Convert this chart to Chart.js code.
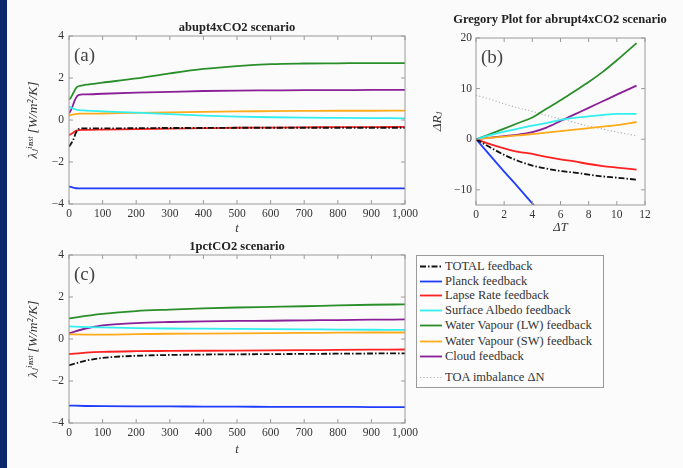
<!DOCTYPE html>
<html>
<head>
<meta charset="utf-8">
<script src="https://cdn.jsdelivr.net/npm/chart.js@4.4.1/dist/chart.umd.min.js"></script>
<style>
  body { margin: 0; background: #fbfbfb; }
  #page { position: relative; width: 683px; height: 468px; background: #fbfbfb; overflow: hidden; }
  #stripe { position: absolute; left: 0; top: 0; width: 7px; height: 468px; background: #0c2a6b; }
  canvas { position: absolute; }
  #legend { position: absolute; left: 416px; top: 255px; width: 186px; height: 131px;
            border: 1px solid #9a9a9a; background: #fcfcfc;
            font-family: "Liberation Serif", "DejaVu Serif", serif; font-size: 12.5px; color: #333; }
  #legend .row { position: absolute; left: 2px; height: 15px; line-height: 15px; white-space: nowrap; }
  #legend svg { position: absolute; left: 0; top: 0; }
  #legend span { position: absolute; left: 26px; top: 0; }
</style>
</head>
<body>
<div id="page">
  <div id="stripe"></div>
  <canvas id="chartA" style="left:0;top:0"></canvas>
  <canvas id="chartB" style="left:420px;top:0"></canvas>
  <canvas id="chartC" style="left:0;top:235px"></canvas>
  <div id="legend"></div>
</div>
<script>
// ---- data: panel (a) abrupt4xCO2, lambda vs t
const tA = [0, 5, 10, 15, 20, 25, 30, 40, 50, 100, 200, 300, 400, 500, 600, 700, 800, 900, 1000];
const aTotal  = [-1.27, -1.15, -1.03, -0.85, -0.63, -0.5, -0.42, -0.4, -0.4, -0.4, -0.39, -0.38, -0.38, -0.37, -0.37, -0.37, -0.37, -0.37, -0.37];
const aPlanck = [-3.17, -3.19, -3.21, -3.23, -3.25, -3.25, -3.26, -3.26, -3.26, -3.26, -3.26, -3.26, -3.26, -3.26, -3.26, -3.26, -3.26, -3.26, -3.26];
const aLapse  = [-0.72, -0.68, -0.63, -0.57, -0.52, -0.49, -0.48, -0.47, -0.47, -0.46, -0.43, -0.41, -0.39, -0.37, -0.36, -0.35, -0.34, -0.34, -0.33];
const aAlbedo = [0.63, 0.6, 0.56, 0.53, 0.5, 0.48, 0.47, 0.46, 0.45, 0.41, 0.35, 0.28, 0.21, 0.16, 0.13, 0.11, 0.1, 0.09, 0.08];
const aWvLw   = [0.98, 1.05, 1.2, 1.35, 1.5, 1.58, 1.62, 1.65, 1.68, 1.78, 1.98, 2.22, 2.43, 2.57, 2.66, 2.69, 2.7, 2.71, 2.71];
const aWvSw   = [0.21, 0.23, 0.25, 0.27, 0.28, 0.29, 0.3, 0.3, 0.3, 0.31, 0.34, 0.36, 0.39, 0.41, 0.42, 0.43, 0.44, 0.44, 0.45];
const aCloud  = [0.32, 0.45, 0.63, 0.85, 1.03, 1.15, 1.2, 1.22, 1.22, 1.25, 1.3, 1.34, 1.38, 1.4, 1.41, 1.42, 1.42, 1.43, 1.43];

// ---- data: panel (b) Gregory plot, delta R vs delta T
const bDT     = [0, 1, 2, 3, 4, 5, 6, 7, 8, 9, 10, 11.4];
const bTotal  = [0, -1.6, -3.1, -4.3, -5.2, -5.8, -6.3, -6.6, -7.0, -7.35, -7.6, -8.0];
const bPlanck = [0, -3.2, -6.4, -9.5, -12.7, -15.9, null, null, null, null, null, null];
const bLapse  = [0, -0.95, -1.8, -2.5, -2.9, -3.5, -4.0, -4.4, -4.9, -5.3, -5.6, -6.0];
const bAlbedo = [0, 0.8, 1.5, 2.1, 2.7, 3.2, 3.8, 4.2, 4.5, 4.8, 5.0, 5.0];
const bWvLw   = [0, 1.0, 2.1, 3.2, 4.3, 6.0, 7.7, 9.5, 11.3, 13.3, 15.6, 19.0];
const bWvSw   = [0, 0.25, 0.5, 0.75, 1.0, 1.3, 1.6, 1.9, 2.2, 2.5, 2.8, 3.4];
const bCloud  = [0, 0.3, 0.6, 0.9, 1.4, 2.3, 3.6, 4.9, 6.2, 7.5, 8.8, 10.6];
const bToa    = [8.7, 7.9, 7.0, 6.2, 5.5, 4.7, 4.0, 3.3, 2.6, 2.0, 1.4, 0.7];

// ---- data: panel (c) 1pctCO2, lambda vs t
const tC = [0, 50, 100, 200, 300, 400, 500, 600, 700, 800, 900, 1000];
const cTotal  = [-1.25, -1.03, -0.9, -0.8, -0.76, -0.74, -0.73, -0.72, -0.71, -0.7, -0.69, -0.68];
const cPlanck = [-3.17, -3.19, -3.2, -3.21, -3.21, -3.22, -3.22, -3.23, -3.23, -3.23, -3.24, -3.24];
const cLapse  = [-0.72, -0.65, -0.61, -0.58, -0.57, -0.56, -0.55, -0.54, -0.53, -0.52, -0.51, -0.5];
const cAlbedo = [0.6, 0.57, 0.55, 0.52, 0.5, 0.49, 0.48, 0.47, 0.46, 0.45, 0.44, 0.43];
const cWvLw   = [0.98, 1.1, 1.2, 1.33, 1.4, 1.46, 1.5, 1.53, 1.56, 1.6, 1.63, 1.65];
const cWvSw   = [0.22, 0.21, 0.21, 0.23, 0.25, 0.26, 0.27, 0.28, 0.29, 0.3, 0.31, 0.31];
const cCloud  = [0.28, 0.5, 0.65, 0.76, 0.81, 0.84, 0.86, 0.87, 0.89, 0.9, 0.92, 0.93];

const seriesNames = ['TOTAL feedback', 'Planck feedback', 'Lapse Rate feedback', 'Surface Albedo feedback',
                     'Water Vapour (LW) feedback', 'Water Vapour (SW) feedback', 'Cloud feedback', 'TOA imbalance ΔN'];

// styles
const colors = ['#111111', '#1f3cff', '#ff2020', '#33eeee', '#2a8f2a', '#ffab1a', '#8a1f98', '#b0b0b0'];
const dashes = [[6, 2, 1.5, 2], [], [], [], [], [], [], [1.2, 2.2]];
const serif = '"Liberation Serif", "DejaVu Serif", serif';

function makeSets(xs, lists) {
    return lists.map((vals, i) => ({
        label: seriesNames[i],
        data: xs.map((x, k) => ({ x: x, y: vals[k] })),
        borderColor: colors[i],
        borderDash: dashes[i],
        borderWidth: i === 7 ? 1.1 : 1.8,
        pointRadius: 0,
        fill: false,
        spanGaps: false,
        cubicInterpolationMode: 'monotone'
    }));
}

function fmt(v) {
    if (v < 0) return '\u2212' + Math.abs(v).toLocaleString('en-US');
    return v.toLocaleString('en-US');
}

// frame, inner ticks, panel letter and title
const framePlugin = {
    id: 'frame',
    afterDraw(chart, args, opts) {
        const { ctx, chartArea: a, scales: { x, y } } = chart;
        ctx.save();
        ctx.strokeStyle = '#9a9a9a';
        ctx.lineWidth = 1;
        ctx.strokeRect(a.left, a.top, a.right - a.left, a.bottom - a.top);
        ctx.beginPath();
        x.ticks.forEach(t => {
            const px = x.getPixelForValue(t.value);
            ctx.moveTo(px, a.bottom); ctx.lineTo(px, a.bottom - 4);
            ctx.moveTo(px, a.top); ctx.lineTo(px, a.top + 4);
        });
        y.ticks.forEach(t => {
            const py = y.getPixelForValue(t.value);
            ctx.moveTo(a.left, py); ctx.lineTo(a.left + 4, py);
            ctx.moveTo(a.right, py); ctx.lineTo(a.right - 4, py);
        });
        ctx.stroke();
        ctx.fillStyle = '#444';
        ctx.font = '19px ' + serif;
        ctx.textBaseline = 'alphabetic';
        ctx.textAlign = 'left';
        ctx.fillText(opts.letter, a.left + 5, a.top + 25);
        ctx.fillStyle = '#222';
        ctx.font = 'bold 12.5px ' + serif;
        ctx.textAlign = 'center';
        ctx.textBaseline = 'middle';
        ctx.fillText(opts.title, opts.titleX, opts.titleY);
        ctx.restore();
    }
};

function makeChart(id, w, h, sets, cfg) {
    const el = document.getElementById(id);
    el.width = w; el.height = h;
    el.style.width = w + 'px'; el.style.height = h + 'px';
    return new Chart(el.getContext('2d'), {
        type: 'line',
        data: { datasets: sets },
        plugins: [framePlugin],
        options: {
            responsive: false,
            animation: false,
            layout: { padding: cfg.padding },
            plugins: {
                legend: { display: false },
                tooltip: { enabled: false },
                frame: { letter: cfg.letter, title: cfg.title, titleX: cfg.titleX, titleY: cfg.titleY }
            },
            scales: {
                x: {
                    type: 'linear',
                    min: cfg.xMin, max: cfg.xMax,
                    grid: { display: false, drawTicks: false },
                    border: { display: false },
                    ticks: { stepSize: cfg.xStep, padding: 3, color: '#333', maxRotation: 0,
                             font: { family: serif, size: 11.5 }, callback: fmt },
                    title: { display: true, text: cfg.xTitle, color: '#333',
                             font: { family: serif, size: 12.5, style: 'italic' },
                             padding: { top: 0, bottom: cfg.xTitlePad } },
                    afterFit(s) { s.height = cfg.xHeight; }
                },
                y: {
                    min: cfg.yMin, max: cfg.yMax,
                    grid: { display: false, drawTicks: false },
                    border: { display: false },
                    ticks: { stepSize: cfg.yStep, padding: cfg.yPad, color: '#333',
                             font: { family: serif, size: 11.5 }, callback: fmt },
                    afterBuildTicks(s) { if (cfg.yTicks) s.ticks = cfg.yTicks.map(v => ({ value: v })); },
                    title: { display: true, text: cfg.yTitle, color: '#333',
                             font: { family: serif, size: 13.5, style: 'italic' },
                             padding: { top: cfg.yTitlePad, bottom: 0 } },
                    afterFit(s) { s.width = cfg.yWidth; }
                }
            }
        }
    });
}

const lambdaTitle = 'λⱼⁱⁿˢᵗ [W/m²/K]';

makeChart('chartA', 425, 240,
    makeSets(tA, [aTotal, aPlanck, aLapse, aAlbedo, aWvLw, aWvSw, aCloud]),
    { padding: { left: 0, top: 36, right: 20, bottom: 0 }, letter: '(a)', title: 'abupt4xCO2 scenario',
      titleX: 237, titleY: 28, xMin: 0, xMax: 1000, xStep: 100, xTitle: 't', xTitlePad: 4, xHeight: 36,
      yMin: -4, yMax: 4, yStep: 2, yPad: 5, yTitle: lambdaTitle, yTitlePad: 25, yWidth: 69 });

makeChart('chartB', 263, 240,
    makeSets(bDT, [bTotal, bPlanck, bLapse, bAlbedo, bWvLw, bWvSw, bCloud, bToa]),
    { padding: { left: 0, top: 38, right: 38, bottom: 0 }, letter: '(b)', title: 'Gregory Plot for abrupt4xCO2 scenario',
      titleX: 140, titleY: 20, xMin: 0, xMax: 12, xStep: 2, xTitle: 'ΔT', xTitlePad: 5, xHeight: 35,
      yMin: -13, yMax: 20, yStep: 10, yTicks: [-10, 0, 10, 20], yPad: 4, yTitle: 'ΔRⱼ', yTitlePad: 9, yWidth: 56 });

makeChart('chartC', 425, 233,
    makeSets(tC, [cTotal, cPlanck, cLapse, cAlbedo, cWvLw, cWvSw, cCloud]),
    { padding: { left: 0, top: 20, right: 20, bottom: 7 }, letter: '(c)', title: '1pctCO2 scenario',
      titleX: 237, titleY: 12, xMin: 0, xMax: 1000, xStep: 100, xTitle: 't', xTitlePad: 4, xHeight: 38,
      yMin: -4, yMax: 4, yStep: 2, yPad: 5, yTitle: lambdaTitle, yTitlePad: 25, yWidth: 69 });

// legend box built from the same names and styles
const rowTops = [3, 18, 32, 47, 62, 78, 93, 114];
const legend = document.getElementById('legend');
seriesNames.forEach((name, i) => {
    const row = document.createElement('div');
    row.className = 'row';
    row.style.top = rowTops[i] + 'px';
    row.style.width = '182px';
    row.innerHTML = '<svg width="24" height="15"><line x1="1" y1="7.5" x2="23" y2="7.5" stroke="' + colors[i] +
        '" stroke-width="' + (i === 7 ? 1.1 : 1.8) + '" stroke-dasharray="' + dashes[i].join(' ') + '"/></svg>' +
        '<span>' + name + '</span>';
    legend.appendChild(row);
});
</script>
</body>
</html>
